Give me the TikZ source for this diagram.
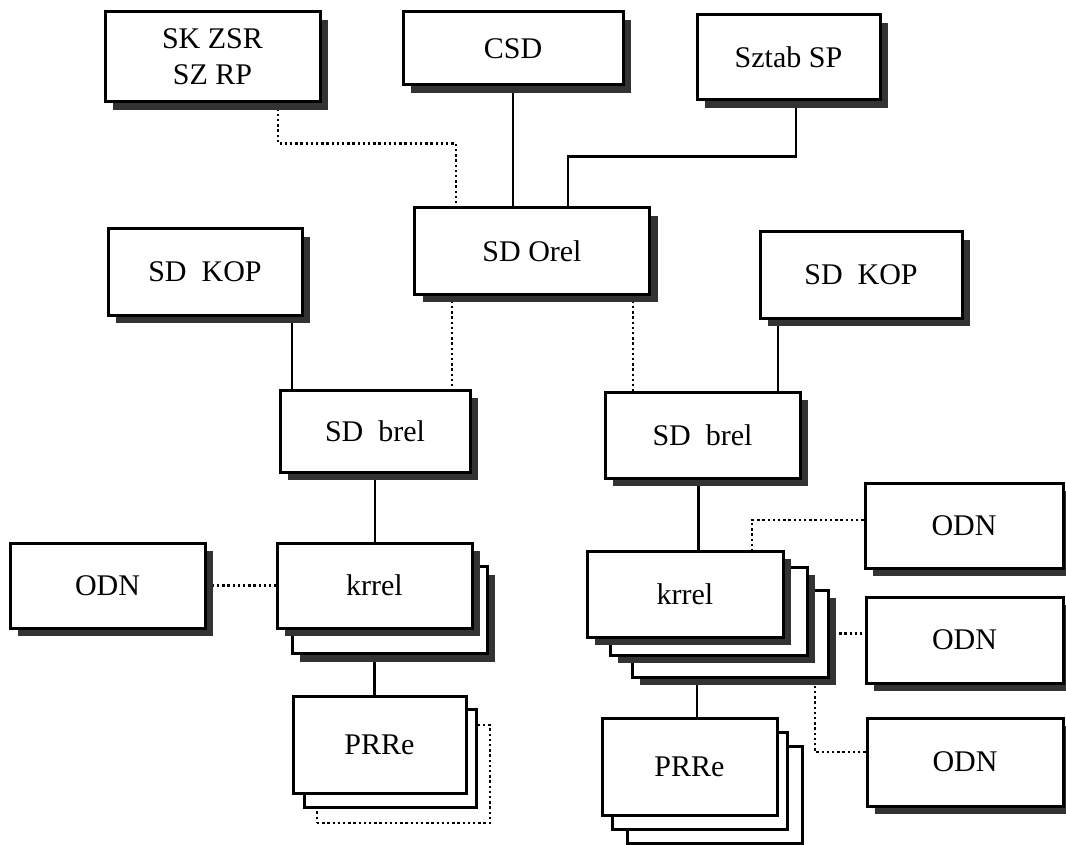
\documentclass[tikz,border=0pt]{standalone}
\usepackage{fontspec}
\setmainfont{Liberation Serif}
\usetikzlibrary{shadows,backgrounds}

\begin{document}
\begin{tikzpicture}[
    x=1pt,
    y=-1pt,
    unit/.style={
        rectangle,
        draw=black,
        line width=3pt,
        fill=white,
        inner sep=0pt,
        align=center,
        font=\fontsize{30}{36}\selectfont
    },
    shadowed/.style={
        drop shadow={shadow xshift=8pt, shadow yshift=-8pt, fill=black!80, opacity=1}
    },
    link/.style={
        line width=2.4pt
    },
    loose/.style={
        line width=2.4pt,
        dash pattern=on 2.4pt off 2.8pt
    }
]
\useasboundingbox (0,0) rectangle (1066,845);

% --- Top level ---
\node[unit, shadowed, minimum width=215pt, minimum height=90pt] (sk) at (212.5,57) {SK ZSR\\SZ RP};
\node[unit, shadowed, minimum width=220pt, minimum height=73pt] (csd) at (513,48.5) {CSD};
\node[unit, shadowed, minimum width=183pt, minimum height=85pt] (sztab) at (788.5,57.5) {Sztab SP};

% --- SD Orel and KOP ---
\node[unit, shadowed, minimum width=235pt, minimum height=86pt] (orel) at (532,251) {SD Orel};
\node[unit, shadowed, minimum width=194pt, minimum height=86pt] (kopL) at (205,272) {SD~~KOP};
\node[unit, shadowed, minimum width=202pt, minimum height=86pt] (kopR) at (861,275) {SD~~KOP};

% --- SD brel ---
\node[unit, shadowed, minimum width=190pt, minimum height=82pt] (brelL) at (375,431) {SD~~brel};
\node[unit, shadowed, minimum width=195pt, minimum height=86pt] (brelR) at (702.5,435) {SD~~brel};

% --- krrel stacks ---
\node[unit, shadowed, minimum width=195pt, minimum height=85pt] (odnL) at (107.5,585.5) {ODN};
\node[unit, shadowed, minimum width=195pt, minimum height=87pt] (krrelL2) at (389.5,610) {};
\node[unit, shadowed, minimum width=195pt, minimum height=85pt] (krrelL) at (374.5,585.5) {krrel};

\node[unit, shadowed, minimum width=196pt, minimum height=87pt] (krrelR3) at (730,633.5) {};
\node[unit, shadowed, minimum width=197pt, minimum height=88pt] (krrelR2) at (708.5,611) {};
\node[unit, shadowed, minimum width=196pt, minimum height=86pt] (krrelR) at (685,594) {krrel};

% --- PRRe stacks ---
\node[unit, loose, minimum width=173pt, minimum height=98pt] (prreL3) at (403.5,774) {};
\node[unit, minimum width=172pt, minimum height=98pt] (prreL2) at (390.5,758) {};
\node[unit, minimum width=173pt, minimum height=97pt] (prreL) at (379.5,744.5) {PRRe};

\node[unit, minimum width=175pt, minimum height=97pt] (prreR3) at (714.5,795) {};
\node[unit, minimum width=175pt, minimum height=97pt] (prreR2) at (699.5,780.5) {};
\node[unit, minimum width=175pt, minimum height=97pt] (prreR) at (689.5,766.5) {PRRe};

% --- ODN on the right ---
\node[unit, shadowed, minimum width=198pt, minimum height=85pt] (odnR1) at (964,525.5) {ODN};
\node[unit, shadowed, minimum width=197pt, minimum height=86pt] (odnR2) at (964.5,640) {ODN};
\node[unit, shadowed, minimum width=196pt, minimum height=88pt] (odnR3) at (965,762) {ODN};

% --- Connectors ---
\begin{scope}[on background layer]
\draw[loose] ([xshift=65.5pt]sk.south) -- ++(0,40) -| ([xshift=-76pt]orel.north);
\draw[link] (csd.south) -- (csd.south |- orel.north);
\draw[link] ([xshift=7.5pt]sztab.south) -- ++(0,55) -| ([xshift=36pt]orel.north);

\draw[loose] ([xshift=-80pt]orel.south) -- ([xshift=-80pt]orel.south |- brelL.north);
\draw[loose] ([xshift=101pt]orel.south) -- ([xshift=101pt]orel.south |- brelR.north);
\draw[link] ([xshift=87pt]kopL.south) -- ([xshift=87pt]kopL.south |- brelL.north);
\draw[link] ([xshift=-83pt]kopR.south) -- ([xshift=-83pt]kopR.south |- brelR.north);

\draw[link] (brelL.south) -- (brelL.south |- krrelL.north);
\draw[link] ([xshift=-4pt]brelR.south) -- ([xshift=-4pt]brelR.south |- krrelR.north);
\draw[link] (krrelL.center) -- (krrelL.center |- prreL.north);
\draw[link] ([xshift=12pt]krrelR.center) -- ([xshift=12pt]krrelR.center |- prreR.north);

\draw[loose] (odnL.east) -- (krrelL.west);
\draw[loose] ([yshift=5.5pt]odnR1.west) -| ([xshift=67pt]krrelR.north);
\draw[loose] (krrelR3.center) -- (krrelR3.center -| odnR2.west);
\draw[loose] ([yshift=10pt]odnR3.west) -| ([xshift=85pt]krrelR3.center);
\end{scope}

\end{tikzpicture}
\end{document}
